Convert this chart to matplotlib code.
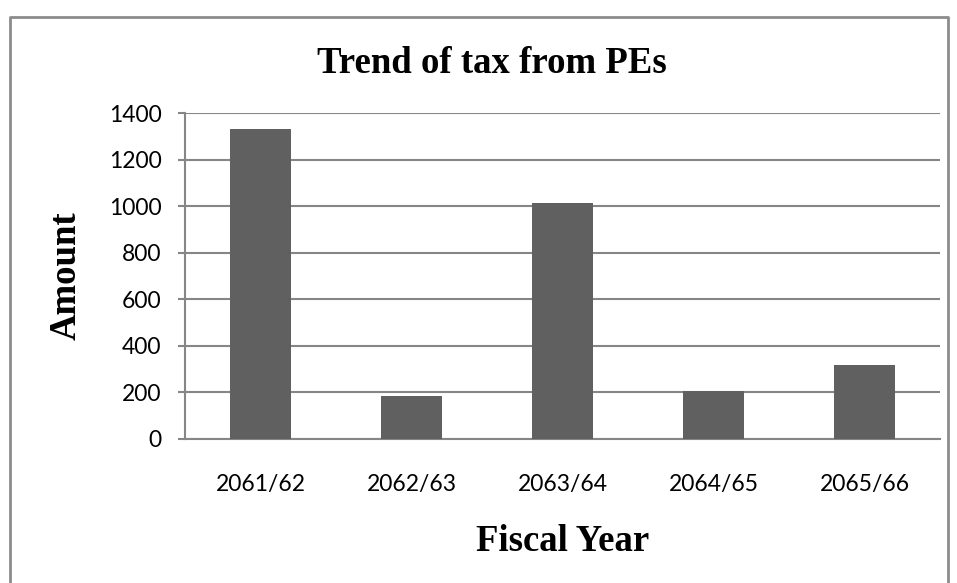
import matplotlib
matplotlib.use('Agg')
import matplotlib.pyplot as plt
from matplotlib.lines import Line2D

years = ['2061/62', '2062/63', '2063/64', '2064/65', '2065/66']
amounts = [1330, 186, 1015, 206, 320]

grid_col = '#868686'
bar_col = '#606060'

fig = plt.figure(figsize=(9.57, 5.83), dpi=100)
ax = fig.add_axes([0.1933, 0.247, 0.789, 0.559])

ax.bar(range(len(years)), amounts, width=0.4, color=bar_col, zorder=3)
ax.set_xlim(-0.5, len(years) - 0.5)
ax.set_ylim(0, 1400)
ax.set_yticks(range(0, 1401, 200))
ax.set_xticks(range(len(years)))
ax.set_xticklabels(years)

ax.grid(axis='y', color=grid_col, linewidth=1.5, zorder=0)
for side in ['top', 'right']:
    ax.spines[side].set_visible(False)
ax.spines['left'].set_color(grid_col)
ax.spines['left'].set_linewidth(1.5)
ax.spines['bottom'].set_color(grid_col)
ax.spines['bottom'].set_linewidth(1.5)
ax.tick_params(axis='y', length=5, width=1.5, color=grid_col, labelsize=16.5, pad=12)
ax.tick_params(axis='x', length=0, labelsize=16.5, pad=25)
for lbl in ax.get_xticklabels() + ax.get_yticklabels():
    lbl.set_family('Lato')

serif = 'Liberation Serif'
fig.text(0.514, 0.875, 'Trend of tax from PEs', ha='center', va='baseline',
         fontsize=26.5, fontweight='bold', family=serif)
fig.text(84 / 957, 0.527, 'Amount', ha='right', va='center', rotation=90,
         fontsize=26.5, fontweight='bold', family=serif)
fig.text(0.588, 0.055, 'Fiscal Year', ha='center', va='baseline',
         fontsize=26.5, fontweight='bold', family=serif)

# outer frame round the chart (open at the bottom)
x0, x1 = 9.5 / 957, 948 / 957
y_top = 1 - 17 / 583
fig.lines.append(Line2D([x0, x0, x1, x1], [0, y_top, y_top, 0],
                        transform=fig.transFigure, color='#8c8c8c', linewidth=2))

fig.savefig('out.png', dpi=100)
